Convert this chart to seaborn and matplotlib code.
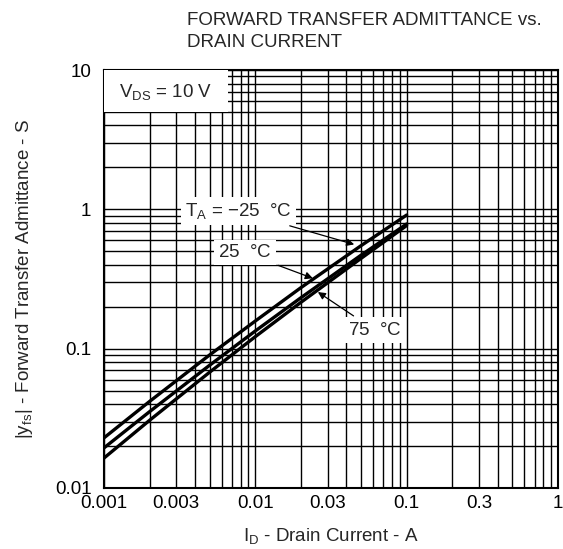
import matplotlib
matplotlib.use("Agg")
import matplotlib.pyplot as plt
import seaborn as sns
import pandas as pd
from matplotlib.patches import Rectangle
from matplotlib.ticker import LogLocator, NullFormatter

# ---------------------------------------------------------
# Data
# ---------------------------------------------------------
drain_current = [0.001, 0.002, 0.005, 0.01, 0.02, 0.05, 0.1]
yfs_minus25 = [0.0229, 0.0418, 0.0903, 0.158, 0.274, 0.549, 0.91]
yfs_25 = [0.0194, 0.0353, 0.0762, 0.134, 0.232, 0.469, 0.785]
yfs_75 = [0.0164, 0.0306, 0.0679, 0.122, 0.215, 0.445, 0.765]
temps = ["-25", "25", "75"]

x_ticks = [0.001, 0.003, 0.01, 0.03, 0.1, 0.3, 1]
x_tick_labels = ["0.001", "0.003", "0.01", "0.03", "0.1", "0.3", "1"]
y_ticks = [0.01, 0.1, 1, 10]
y_tick_labels = ["0.01", "0.1", "1", "10"]

df = pd.DataFrame({
    "current": drain_current * 3,
    "yfs": yfs_minus25 + yfs_25 + yfs_75,
    "temp": [t for t in temps for _ in drain_current],
})

# ---------------------------------------------------------
# Style
# ---------------------------------------------------------
sns.set_style("white")
plt.rcParams["font.family"] = ["Liberation Sans", "DejaVu Sans"]
plt.rcParams["mathtext.fontset"] = "custom"
plt.rcParams["mathtext.rm"] = "Liberation Sans"
plt.rcParams["mathtext.it"] = "Liberation Sans"

FS = 13.5

fig = plt.figure(figsize=(5.63, 5.49), dpi=100)
ax = fig.add_axes([104 / 563, 1 - 488 / 549, 454 / 563, 418 / 549])

sns.lineplot(
    data=df, x="current", y="yfs", hue="temp",
    palette=["black"] * 3, linewidth=2.4, legend=False, ax=ax, zorder=3,
)

ax.set_xscale("log")
ax.set_yscale("log")
ax.set_xlim(0.001, 1)
ax.set_ylim(0.01, 10)

ax.set_xticks(x_ticks)
ax.set_xticklabels(x_tick_labels)
ax.set_yticks(y_ticks)
ax.set_yticklabels(y_tick_labels)
ax.xaxis.set_minor_locator(LogLocator(base=10, subs=range(2, 10)))
ax.yaxis.set_minor_locator(LogLocator(base=10, subs=range(2, 10)))
ax.xaxis.set_minor_formatter(NullFormatter())
ax.yaxis.set_minor_formatter(NullFormatter())
ax.tick_params(which="both", length=0, labelsize=FS, colors="black")
ax.tick_params(axis="x", pad=5)
ax.tick_params(axis="y", pad=9)

ax.grid(which="both", color="black", linewidth=1.0)
ax.set_axisbelow(True)
for spine in ax.spines.values():
    spine.set_color("black")
    spine.set_linewidth(1.5)

ax.set_xlabel(r"$\mathregular{I_D}$ - Drain Current - A", fontsize=FS, labelpad=10)
ax.set_ylabel(r"|$\mathregular{y_{fs}}$| - Forward Transfer Admittance - S",
              fontsize=FS, labelpad=14)

fig.text(187 / 563, 1 - 12 / 549,
         "FORWARD TRANSFER ADMITTANCE vs.\nDRAIN CURRENT",
         ha="left", va="top", fontsize=FS, linespacing=1.4)

# ---------------------------------------------------------
# Annotations
# ---------------------------------------------------------
box = dict(facecolor="white", edgecolor="none", pad=3)
arrow = dict(arrowstyle="-|>", color="black", lw=0.9, mutation_scale=11,
             shrinkA=2, shrinkB=0)

ax.add_patch(Rectangle((0, 0.9), 0.273, 0.1, transform=ax.transAxes,
                       facecolor="white", edgecolor="none", zorder=4))
ax.text(0.1365, 0.947, r"$\mathregular{V_{DS}}$ = 10 V", fontsize=FS,
        ha="center", va="center", transform=ax.transAxes, zorder=5)

ax.annotate(r"$\mathregular{T_A}$ = $-$25  $\degree$C", xy=(0.045, 0.56),
            xytext=(0.0077, 0.974), fontsize=FS, ha="center", va="center",
            bbox=box, arrowprops=arrow, zorder=5)
ax.annotate(r"25  $\degree$C", xy=(0.024, 0.32),
            xytext=(0.0085, 0.487), fontsize=FS, ha="center", va="center",
            bbox=box, arrowprops=arrow, zorder=5)
ax.annotate(r"75  $\degree$C", xy=(0.0259, 0.255),
            xytext=(0.0615, 0.136), fontsize=FS, ha="center", va="center",
            bbox=box, arrowprops=arrow, zorder=5)

fig.savefig("out.png", dpi=100, facecolor="white")
